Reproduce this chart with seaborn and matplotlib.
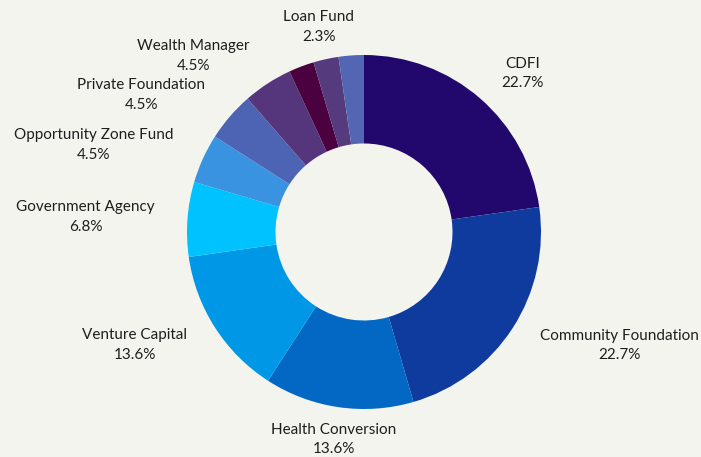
import numpy as np
import matplotlib
matplotlib.use("Agg")
from matplotlib import pyplot as plt
import seaborn as sns

# funder types, clockwise from 12 o'clock
categories = ["CDFI", "Community Foundation", "Health Conversion", "Venture Capital",
              "Government Agency", "Opportunity Zone Fund", "Private Foundation",
              "Wealth Manager", "", "Loan Fund", ""]
shares = [22.7, 22.7, 13.6, 13.6, 6.8, 4.5, 4.5, 4.5, 2.3, 2.3, 2.3]
colors = ["#22086c", "#0f3b9f", "#0268c4", "#0098e6", "#00c2ff", "#3a93e0",
          "#4d64b5", "#55367d", "#4b0040", "#563a7e", "#5266b4"]

bg = "#f4f4ef"

sns.set_theme(style="white")
plt.rcParams['font.family'] = ['Lato', 'DejaVu Sans']

fig = plt.figure(figsize=(7.01, 4.57), dpi=100, facecolor=bg)
ax = fig.add_axes([0, 0, 1, 1])
ax.set_facecolor(bg)

wedges, _ = ax.pie(shares, colors=colors, startangle=90, counterclock=False,
                   wedgeprops=dict(width=0.5, edgecolor='none'))

# labels sit outside each wedge, aligned by side
for w, name, val in zip(wedges, categories, shares):
    if not name:
        continue
    ang = np.deg2rad((w.theta1 + w.theta2) / 2)
    x, y = 1.185 * np.cos(ang), 1.185 * np.sin(ang)
    c = np.cos(ang)
    ha = 'left' if c > 0.3 else ('right' if c < -0.3 else 'center')
    ax.text(x, y, f"{name}\n{val:.1f}%", ha=ha, va='center', multialignment='center',
            fontsize=11, color='#1e1e1e', linespacing=1.5)

# place the pie: centre at (364, 232) px, radius 177 px
r_px = 177
ax.set_aspect('auto')
ax.set_xlim(-364 / r_px, (701 - 364) / r_px)
ax.set_ylim(-(457 - 232) / r_px, 232 / r_px)
ax.axis('off')

fig.savefig("out.png", dpi=100, facecolor=bg)
